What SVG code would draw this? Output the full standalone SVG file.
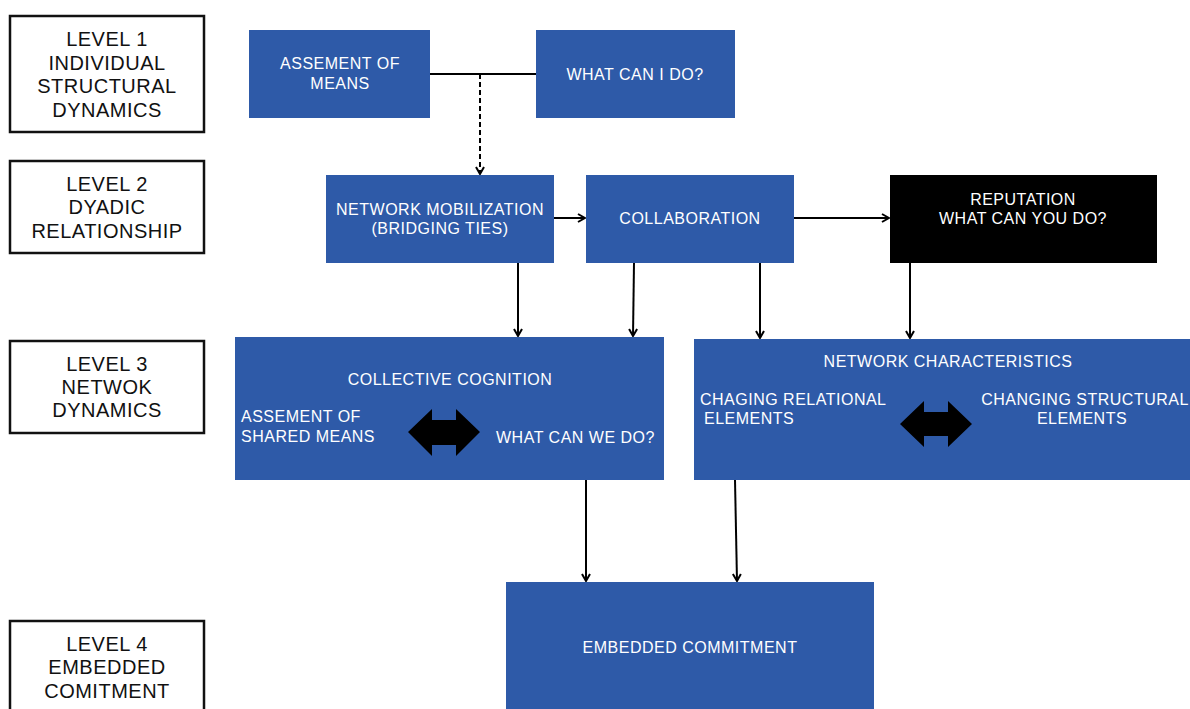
<svg xmlns="http://www.w3.org/2000/svg" width="1190" height="709" viewBox="0 0 1190 709">
  <style>
    .level rect { fill: #ffffff; stroke: #111111; stroke-width: 2.5; }
    .level text { font-family: "Liberation Sans", Arial, sans-serif; font-size: 20px; fill: #111111; text-anchor: middle; letter-spacing: 0.5px; }
    .box rect { fill: #2E5AA8; }
    .dark rect { fill: #000000; }
    .box text, .dark text { font-family: "Liberation Sans", Arial, sans-serif; font-size: 16px; fill: #ffffff; letter-spacing: 0.5px; }
    .mid { text-anchor: middle; }
    .conn { stroke: #000000; stroke-width: 2; fill: none; }
    .dash { stroke-dasharray: 5 3; }
    .dbl { fill: #000000; }
  </style>
  <defs>
    <marker id="arr" viewBox="0 0 10 10" refX="9" refY="5" markerWidth="10" markerHeight="10" markerUnits="userSpaceOnUse" orient="auto">
      <path d="M2,1 L9,5 L2,9" fill="none" stroke="#000000" stroke-width="2"/>
    </marker>
  </defs>

  <rect width="1190" height="709" fill="#ffffff"/>

  <!-- level labels -->
  <g id="level1" class="level">
    <rect x="10" y="16" width="194" height="116"/>
    <text x="107" y="46">LEVEL 1</text>
    <text x="107" y="70">INDIVIDUAL</text>
    <text x="107" y="93">STRUCTURAL</text>
    <text x="107" y="117">DYNAMICS</text>
  </g>
  <g id="level2" class="level">
    <rect x="10" y="161" width="194" height="92"/>
    <text x="107" y="191">LEVEL 2</text>
    <text x="107" y="214">DYADIC</text>
    <text x="107" y="238">RELATIONSHIP</text>
  </g>
  <g id="level3" class="level">
    <rect x="10" y="341" width="194" height="92"/>
    <text x="107" y="371">LEVEL 3</text>
    <text x="107" y="394">NETWOK</text>
    <text x="107" y="417">DYNAMICS</text>
  </g>
  <g id="level4" class="level">
    <rect x="10" y="621" width="194" height="100"/>
    <text x="107" y="651">LEVEL 4</text>
    <text x="107" y="674">EMBEDDED</text>
    <text x="107" y="698">COMITMENT</text>
  </g>

  <!-- connectors -->
  <g id="connectors">
    <line class="conn" x1="430" y1="74" x2="536" y2="74"/>
    <line class="conn dash" x1="480" y1="74" x2="480" y2="174" marker-end="url(#arr)"/>
    <line class="conn" x1="554" y1="218" x2="585" y2="218" marker-end="url(#arr)"/>
    <line class="conn" x1="794" y1="218" x2="889" y2="218" marker-end="url(#arr)"/>
    <line class="conn" x1="518" y1="263" x2="518" y2="336" marker-end="url(#arr)"/>
    <line class="conn" x1="634" y1="263" x2="633" y2="336" marker-end="url(#arr)"/>
    <line class="conn" x1="760" y1="263" x2="760" y2="338" marker-end="url(#arr)"/>
    <line class="conn" x1="910" y1="263" x2="910" y2="338" marker-end="url(#arr)"/>
    <line class="conn" x1="586" y1="480" x2="586" y2="581" marker-end="url(#arr)"/>
    <line class="conn" x1="735" y1="480" x2="737" y2="581" marker-end="url(#arr)"/>
  </g>

  <!-- level 1 nodes -->
  <g id="assessment" class="box">
    <rect x="249" y="30" width="181" height="88"/>
    <text class="mid" x="340" y="69">ASSEMENT OF</text>
    <text class="mid" x="340" y="89">MEANS</text>
  </g>
  <g id="what-can-i-do" class="box">
    <rect x="536" y="30" width="199" height="88"/>
    <text class="mid" x="635" y="80">WHAT CAN I DO?</text>
  </g>

  <!-- level 2 nodes -->
  <g id="network-mobilization" class="box">
    <rect x="326" y="175" width="228" height="88"/>
    <text class="mid" x="440" y="215">NETWORK MOBILIZATION</text>
    <text class="mid" x="440" y="234">(BRIDGING TIES)</text>
  </g>
  <g id="collaboration" class="box">
    <rect x="586" y="175" width="208" height="88"/>
    <text class="mid" x="690" y="224">COLLABORATION</text>
  </g>
  <g id="reputation" class="dark">
    <rect x="890" y="175" width="267" height="88"/>
    <text class="mid" x="1023" y="205">REPUTATION</text>
    <text class="mid" x="1023" y="224">WHAT CAN YOU DO?</text>
  </g>

  <!-- level 3 nodes -->
  <g id="collective-cognition" class="box">
    <rect x="235" y="337" width="429" height="143"/>
    <text class="mid" x="450" y="385">COLLECTIVE COGNITION</text>
    <text x="241" y="422">ASSEMENT OF</text>
    <text x="241" y="442">SHARED MEANS</text>
    <text x="496" y="443">WHAT CAN WE DO?</text>
    <polygon class="dbl" points="408,432 432,409 432,420 456,420 456,409 480,432 456,456 456,445 432,445 432,456"/>
  </g>
  <g id="network-characteristics" class="box">
    <rect x="694" y="339" width="496" height="141"/>
    <text class="mid" x="948" y="367">NETWORK CHARACTERISTICS</text>
    <text x="700" y="405">CHAGING RELATIONAL</text>
    <text x="704" y="424">ELEMENTS</text>
    <text class="mid" x="1085" y="405">CHANGING STRUCTURAL</text>
    <text class="mid" x="1082" y="424">ELEMENTS</text>
    <polygon class="dbl" points="900,424 924,401 924,412 948,412 948,401 972,424 948,447 948,436 924,436 924,447"/>
  </g>

  <!-- level 4 node -->
  <g id="embedded-commitment" class="box">
    <rect x="506" y="582" width="368" height="140"/>
    <text class="mid" x="690" y="653">EMBEDDED COMMITMENT</text>
  </g>
</svg>
